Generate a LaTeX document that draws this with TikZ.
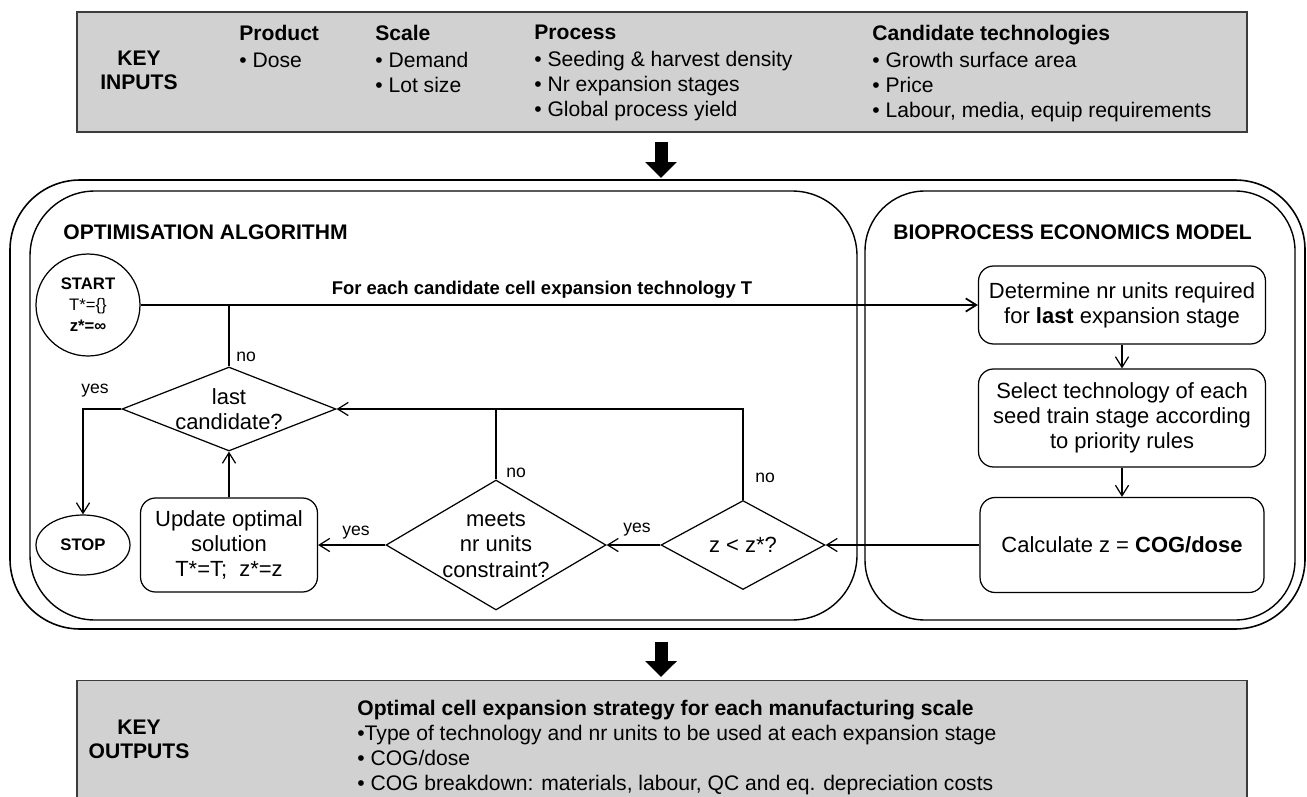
\documentclass[tikz,border=0pt]{standalone}
\usepackage{fontspec}
\setmainfont{Liberation Sans}
\usetikzlibrary{shapes.geometric,arrows.meta}

\definecolor{keygray}{RGB}{209,209,209}
\definecolor{keyedge}{RGB}{60,60,60}

\begin{document}
\begin{tikzpicture}[x=0.02cm,y=-0.02cm,
  keybox/.style={draw=keyedge,fill=keygray,line width=0.8pt,minimum width=23.4cm,inner sep=0pt},
  col/.style={anchor=north west,align=left,inner sep=0pt,font=\fontsize{12}{14.2}\selectfont},
  heading/.style={inner sep=0pt,font=\fontsize{12}{13.8}\selectfont\bfseries},
  proc/.style={draw,rounded corners=0.3cm,line width=0.7pt,align=center,inner sep=0pt,font=\fontsize{12.5}{14.4}\selectfont},
  decision/.style={draw,diamond,line width=0.7pt,inner sep=0pt},
  dtext/.style={align=center,inner sep=0pt,font=\fontsize{12.5}{14.4}\selectfont},
  term/.style={draw,ellipse,line width=0.7pt,inner sep=0pt,align=center,font=\fontsize{9.5}{12}\selectfont\bfseries},
  yesno/.style={inner sep=0pt,font=\fontsize{10}{12}\selectfont},
  flow/.style={line width=0.7pt,-{Straight Barb[length=6pt,width=7.5pt]}},
  bigarrow/.style={line width=0.26cm,-{Triangle[width=0.62cm,length=0.32cm]}}
]
\useasboundingbox (0,0) rectangle (1307,797);

\coordinate (in1) at (661,142);
\coordinate (in2) at (661,178);
\coordinate (out1) at (661,642);
\coordinate (out2) at (661,677);

% key inputs
\node[keybox,minimum height=2.4cm] (inputs) at (662,72) {};
\node[heading,align=center] (keyin) at (139,70) {KEY\\INPUTS};
\node[col] (product) at (239,25) {\textbf{Product}\\[1pt]• Dose};
\node[col] (scale) at (375,25) {\textbf{Scale}\\[1pt]• Demand\\• Lot size};
\node[col] (process) at (534,25) {\textbf{Process}\\[1pt]• Seeding \& harvest density\\• Nr expansion stages\\• Global process yield};
\node[col] (candidates) at (872,25) {\textbf{Candidate technologies}\\[1pt]• Growth surface area\\• Price\\• Labour, media, equip requirements};
\draw[bigarrow] (in1) -- (in2);

% containers
\draw[line width=0.9pt,rounded corners=1.4cm] (10,180) rectangle (1305,629);
\draw[line width=0.8pt,rounded corners=1.3cm] (30,191) rectangle (857,620);
\draw[line width=0.8pt,rounded corners=1.2cm] (865,191) rectangle (1295,620);
\node[heading,anchor=west] (opttitle) at (63,232) {OPTIMISATION ALGORITHM};
\node[heading,anchor=west] (biotitle) at (893,232) {BIOPROCESS ECONOMICS MODEL};

\node[term,minimum width=2.08cm,minimum height=2.04cm] (start) at (88,305) {START\\{\mdseries T*=\{\}}\\z*=∞};
\node[term,minimum width=1.88cm,minimum height=1.2cm] (stop) at (83,545) {STOP};
\node[decision,minimum width=4.28cm,minimum height=1.68cm] (last) at (229,409) {};
\node[dtext] (lasttxt) at (last) {last\\candidate?};
\node[proc,minimum width=3.54cm,minimum height=1.88cm] (update) at (229,545) {Update optimal\\solution\\T*=T;~ z*=z};
\node[decision,minimum width=4.4cm,minimum height=2.6cm] (meets) at (496,545) {};
\node[dtext] (meetstxt) at (meets) {meets\\nr units\\constraint?};
\node[decision,minimum width=3.28cm,minimum height=1.78cm] (zless) at (743,545) {};
\node[dtext] (zlesstxt) at (zless) {z < z*?};

\node[proc,minimum width=5.74cm,minimum height=1.56cm] (determine) at (1122,305) {Determine nr units required\\for \textbf{last} expansion stage};
\node[proc,minimum width=5.74cm,minimum height=1.96cm] (select) at (1122,418) {Select technology of each\\seed train stage according\\to priority rules};
\node[proc,minimum width=5.68cm,minimum height=1.9cm] (calc) at (1122,545) {Calculate z = \textbf{COG/dose}};

\draw[flow,line width=1pt] (start.east) -- (determine.west);
\node[inner sep=0pt,font=\fontsize{10.5}{12}\selectfont\bfseries] (foreach) at (542,290) {For each candidate cell expansion technology T};
\draw[line width=0.7pt] (last.north) -- (last.north |- start.east);
\node[yesno,anchor=west] (no1) at (236,357) {no};
\draw[flow] (last.west) -| (stop.north);
\node[yesno] (yes1) at (95,391) {yes};
\draw[flow] (update.north) -- (last.south);
\draw[flow] (meets.west) -- (update.east);
\node[yesno] (yes2) at (356,533) {yes};
\draw[line width=0.7pt] (meets.north) -- (meets.north |- last.east);
\node[yesno,anchor=west] (no2) at (506,473) {no};
\draw[flow] (zless.north) |- (last.east);
\node[yesno,anchor=west] (no3) at (755,478) {no};
\draw[flow] (zless.west) -- (meets.east);
\node[yesno] (yes3) at (637,530) {yes};
\draw[flow] (calc.west) -- (zless.east);
\draw[flow] (determine.south) -- (select.north);
\draw[flow] (select.south) -- (calc.north);

% key outputs
\draw[bigarrow] (out1) -- (out2);
\node[keybox,minimum height=2.44cm,anchor=north] (outputs) at (662,680) {};
\node[heading,align=center] (keyout) at (139,739) {KEY\\OUTPUTS};
\node[col] (strategy) at (357,700) {\textbf{Optimal cell expansion strategy for each manufacturing scale}\\•Type of technology and nr units to be used at each expansion stage\\• COG/dose\\• COG breakdown: materials, labour, QC and eq. depreciation costs};
\end{tikzpicture}
\end{document}
